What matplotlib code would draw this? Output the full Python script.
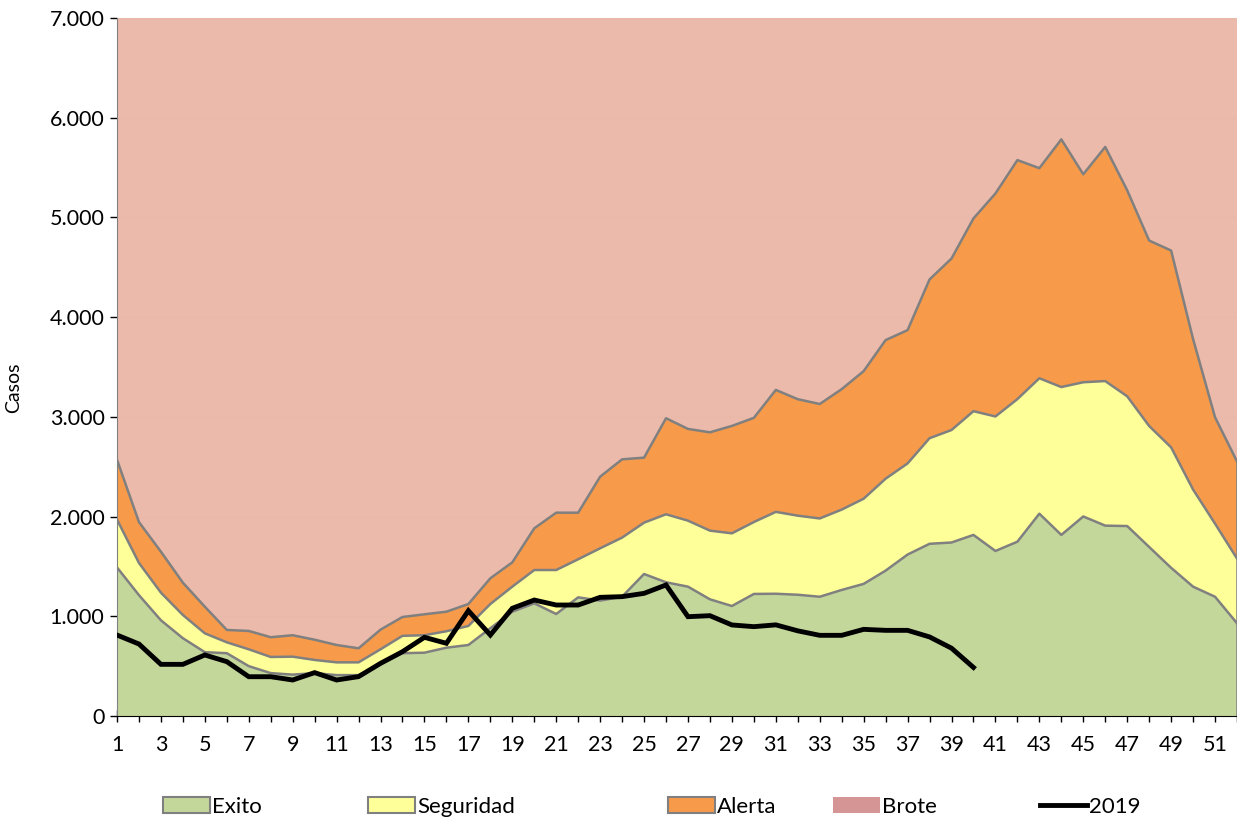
import matplotlib
matplotlib.use("Agg")
import matplotlib.pyplot as plt
from matplotlib.patches import Patch
from matplotlib.lines import Line2D
from matplotlib.ticker import FuncFormatter, MultipleLocator

plt.rcParams["font.family"] = ["Lato", "DejaVu Sans"]

semanas = list(range(1, 53))

# limite superior de cada zona (casos acumulados)
exito = [1490, 1212, 960, 780, 640, 630, 500, 430, 415, 430, 410, 410, 520,
         630, 635, 685, 712, 880, 1046, 1130, 1023, 1190, 1157, 1197, 1424,
         1341, 1297, 1170, 1103, 1224, 1226, 1216, 1196, 1264, 1325, 1458,
         1619, 1727, 1740, 1816, 1655, 1748, 2029, 1816, 2001, 1909, 1905,
         1695, 1486, 1297, 1196, 930]
seguridad = [1970, 1535, 1237, 1013, 829, 739, 669, 592, 595, 562, 538, 538,
             669, 804, 810, 850, 903, 1123, 1297, 1464, 1464, 1572, 1682, 1789,
             1939, 2023, 1959, 1859, 1832, 1945, 2047, 2009, 1981, 2070, 2179,
             2380, 2533, 2786, 2868, 3057, 3004, 3178, 3387, 3299, 3347, 3359,
             3206, 2908, 2694, 2271, 1929, 1579]
alerta = [2570, 1945, 1648, 1337, 1096, 863, 853, 790, 810, 765, 712, 679,
          866, 993, 1020, 1046, 1123, 1381, 1541, 1882, 2039, 2039, 2400, 2574,
          2591, 2986, 2879, 2845, 2909, 2990, 3270, 3177, 3129, 3278, 3459,
          3770, 3870, 4378, 4588, 4990, 5240, 5575, 5494, 5783, 5433, 5707,
          5272, 4768, 4668, 3781, 2996, 2553]

semanas_2019 = list(range(1, 41))
casos_2019 = [812, 722, 518, 518, 612, 545, 394, 394, 361, 435, 361, 395, 528,
              645, 789, 729, 1056, 812, 1080, 1163, 1113, 1113, 1190, 1197,
              1230, 1314, 996, 1006, 913, 896, 914, 854, 809, 809, 869, 859,
              859, 793, 680, 487]

c_exito = "#c4d79b"
c_seg = "#ffff99"
c_alerta = "#f79a4a"
c_brote = "#ecbaab"
borde = "#808080"

fig = plt.figure(figsize=(12.37, 8.23), dpi=100)
ax = fig.add_axes([117 / 1237, 107 / 823, 1120 / 1237, 698 / 823])
ax.set_facecolor(c_brote)

ax.fill_between(semanas, 0, exito, facecolor=c_exito, edgecolor="none", zorder=2)
ax.fill_between(semanas, exito, seguridad, facecolor=c_seg, edgecolor="none", zorder=2)
ax.fill_between(semanas, seguridad, alerta, facecolor=c_alerta, edgecolor="none", zorder=2)
for serie in (exito, seguridad, alerta):
    ax.plot(semanas, serie, color=borde, lw=1.8, zorder=3)
ax.vlines(52, 0, alerta[-1], color=borde, lw=1.8, zorder=3)

ax.plot(semanas_2019, casos_2019, color="black", lw=3.5, zorder=4,
        solid_joinstyle="miter")

ax.set_xlim(1, 52)
ax.set_ylim(0, 7000)
ax.set_xticks(range(1, 53, 2))
ax.xaxis.set_minor_locator(MultipleLocator(1))
ax.yaxis.set_major_locator(MultipleLocator(1000))
ax.yaxis.set_major_formatter(FuncFormatter(lambda v, p: f"{int(v):,}".replace(",", ".")))
ax.grid(axis="y", color="#e8b8a9", lw=0.8, zorder=1)
ax.set_axisbelow(True)

ax.tick_params(axis="x", which="both", direction="inout", length=9, width=1,
               labelsize=15.5, pad=9)
ax.tick_params(axis="y", direction="out", length=5, width=1, labelsize=15.5,
               pad=4)
for s in ("top", "right"):
    ax.spines[s].set_visible(False)
ax.spines["left"].set_color(borde)
ax.spines["bottom"].set_color("black")
ax.set_ylabel("Casos", fontsize=14)
ax.yaxis.set_label_coords(-0.085, 0.47)

handles = [
    Patch(facecolor=c_exito, edgecolor=borde, lw=1.5),
    Patch(facecolor=c_seg, edgecolor=borde, lw=1.5),
    Patch(facecolor=c_alerta, edgecolor=borde, lw=1.5),
    Patch(facecolor="#d49594", edgecolor="none"),
    Line2D([0], [0], color="black", lw=3.5),
]
labels = ["Exito", "Seguridad", "Alerta", "Brote", "2019"]
x_leyenda = [163, 368, 668, 833, 1040]
for h, lab, xl in zip(handles, labels, x_leyenda):
    fig.legend([h], [lab], loc="center left",
               bbox_to_anchor=(xl / 1237, 1 - 807 / 823), frameon=False,
               fontsize=16, handlelength=2.1, handletextpad=0.12,
               borderpad=0, borderaxespad=0)

fig.savefig("out.png", dpi=100)
